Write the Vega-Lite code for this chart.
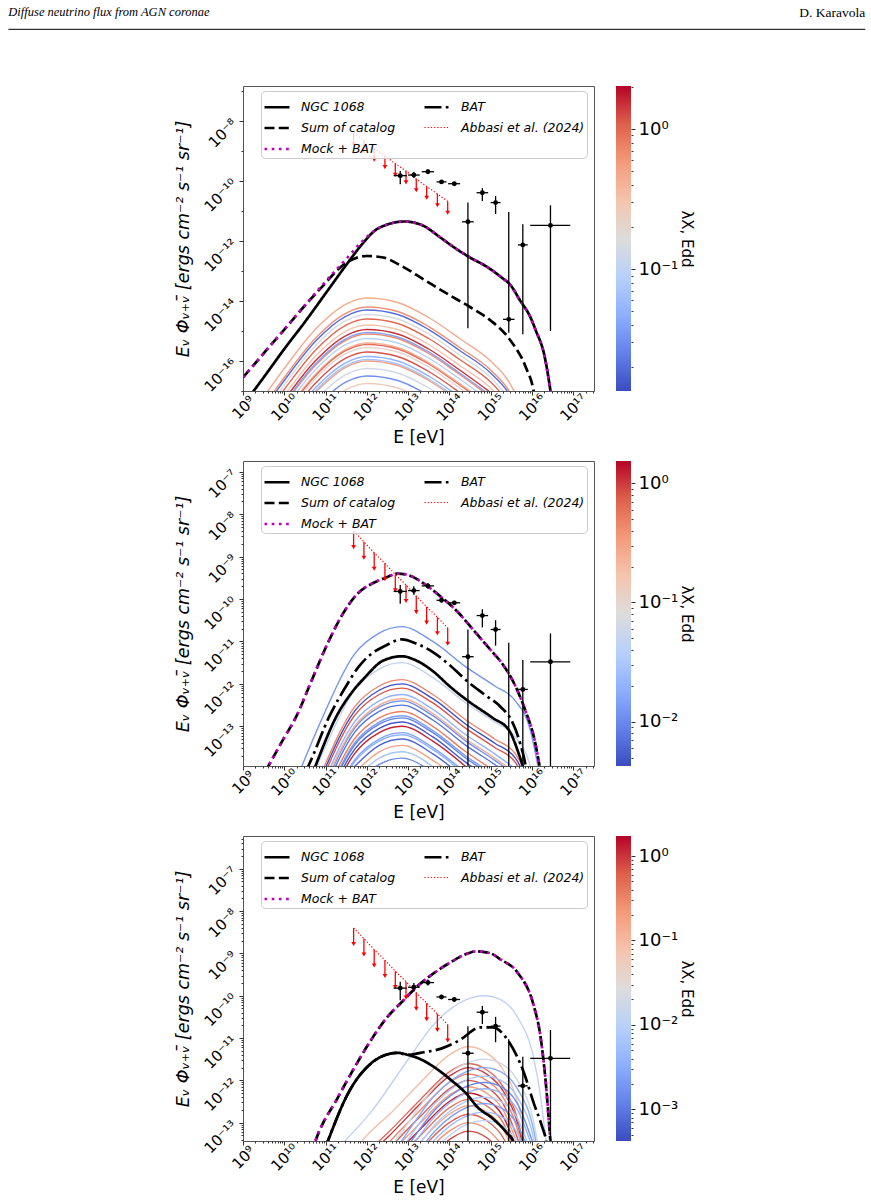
{
"$schema":"https://vega.github.io/schema/vega-lite/v6.json",
"padding":{"left":7,"top":5,"right":7,"bottom":2},
"bounds":"flush",
"columns":2,
"spacing":{"row":70,"column":22},
"resolve":{"scale":{"color":"independent","strokeDash":"independent","strokeWidth":"independent","stroke":"independent"},"legend":{"color":"independent","strokeDash":"independent","strokeWidth":"independent","stroke":"independent"}},
"config":{"font":"DejaVu Sans","view":{"stroke":"#555555","strokeWidth":1},
"axis":{"domain":false,"grid":false,"labelColor":"#000","titleColor":"#000","tickColor":"#333","tickWidth":1,"labelFontSize":15,"titleFontWeight":"normal","labelOverlap":false,"labelFlush":false},
"legend":{"title":null,"orient":"none","legendX":18,"legendY":5,"direction":"vertical","columns":2,"symbolType":"stroke","symbolSize":625,"labelFont":"DejaVu Sans","labelFontStyle":"italic","labelFontSize":12.5,"labelOffset":10,"labelLimit":300,"columnPadding":23,"rowPadding":-9,"padding":2,"fillColor":"rgba(255,255,255,0.8)","strokeColor":"#cccccc","cornerRadius":4,"zindex":1}},
"datasets":{
"pts":[
{"e":6.46e12,"f":1.51e-10,"el":4.47e12,"eh":9.33e12,"fl":7.76e-11,"fh":2.14e-10},
{"e":1.38e13,"f":1.58e-10,"el":1e13,"eh":1.91e13,"fl":1.26e-10,"fh":2e-10},
{"e":3.02e13,"f":2.04e-10,"el":2.14e13,"eh":4.27e13,"fl":1.74e-10,"fh":2.4e-10},
{"e":6.46e13,"f":9.33e-11,"el":4.9e13,"eh":8.51e13,"fl":8.32e-11,"fh":1.05e-10},
{"e":1.32e14,"f":8.13e-11,"el":9.33e13,"eh":1.82e14,"fl":7.24e-11,"fh":9.12e-11},
{"e":2.82e14,"f":4.37e-12,"el":2.04e14,"eh":3.89e14,"fl":1.23e-15,"fh":1.91e-11},
{"e":6.31e14,"f":4.07e-11,"el":4.57e14,"eh":8.71e14,"fl":2.14e-11,"fh":5.75e-11},
{"e":1.32e15,"f":1.91e-11,"el":1e15,"eh":1.74e15,"fl":7.94e-12,"fh":3.16e-11},
{"e":2.75e15,"f":2.45e-15,"el":2e15,"eh":3.8e15,"fl":8.71e-16,"fh":9.33e-12},
{"e":6.03e15,"f":7.41e-13,"el":4.57e15,"eh":7.94e15,"fl":7.76e-16,"fh":3.63e-12},
{"e":2.82e16,"f":3.31e-12,"el":9.12e15,"eh":8.51e16,"fl":1e-15,"fh":1.55e-11}],
"abb":[
{"e":4.79e11,"f":3.98e-9,"f2":1.67e-9},{"e":8.51e11,"f":2.24e-9,"f2":9.4e-10},{"e":1.51e12,"f":1.23e-9,"f2":5.17e-10},{"e":2.75e12,"f":6.92e-10,"f2":2.91e-10},{"e":4.9e12,"f":3.8e-10,"f2":1.6e-10},{"e":8.91e12,"f":2.14e-10,"f2":8.99e-11},{"e":1.58e13,"f":1.17e-10,"f2":4.91e-11},{"e":2.82e13,"f":6.61e-11,"f2":2.78e-11},{"e":5.13e13,"f":3.72e-11,"f2":1.56e-11},{"e":9.12e13,"f":2.09e-11,"f2":8.78e-12}],
"p1s":[
{"s":"Sum of catalog","e":1e9,"f":2.82e-17},{"s":"Sum of catalog","e":3.16e9,"f":1.78e-16},{"s":"Sum of catalog","e":1e10,"f":1.12e-15},{"s":"Sum of catalog","e":3.16e10,"f":7.08e-15},{"s":"Sum of catalog","e":1e11,"f":3.98e-14},{"s":"Sum of catalog","e":2e11,"f":1.12e-13},{"s":"Sum of catalog","e":3.98e11,"f":2.24e-13},{"s":"Sum of catalog","e":1e12,"f":3.16e-13},{"s":"Sum of catalog","e":2.51e12,"f":2.82e-13},{"s":"Sum of catalog","e":6.31e12,"f":1.58e-13},{"s":"Sum of catalog","e":2.51e13,"f":5.01e-14},{"s":"Sum of catalog","e":1e14,"f":1.58e-14},{"s":"Sum of catalog","e":3.16e14,"f":6.31e-15},{"s":"Sum of catalog","e":1e15,"f":2.24e-15},{"s":"Sum of catalog","e":3.16e15,"f":4.47e-16},{"s":"Sum of catalog","e":7.08e15,"f":6.31e-17},{"s":"Sum of catalog","e":1.12e16,"f":8.91e-18},{"s":"Sum of catalog","e":1.26e16,"f":3.16e-18},
{"s":"NGC 1068","e":1.41e9,"f":6.31e-18},{"s":"NGC 1068","e":3.16e9,"f":2.82e-17},{"s":"NGC 1068","e":1e10,"f":2.51e-16},{"s":"NGC 1068","e":3.16e10,"f":2e-15},{"s":"NGC 1068","e":1e11,"f":1.78e-14},{"s":"NGC 1068","e":3.16e11,"f":1.58e-13},{"s":"NGC 1068","e":8.91e11,"f":1e-12},{"s":"NGC 1068","e":1.58e12,"f":2.24e-12},{"s":"NGC 1068","e":3.16e12,"f":3.55e-12},{"s":"NGC 1068","e":7.94e12,"f":4.47e-12},{"s":"NGC 1068","e":2e13,"f":3.55e-12},{"s":"NGC 1068","e":6.31e13,"f":1.26e-12},{"s":"NGC 1068","e":1.26e14,"f":6.31e-13},{"s":"NGC 1068","e":3.16e14,"f":2.82e-13},{"s":"NGC 1068","e":7.94e14,"f":1.41e-13},{"s":"NGC 1068","e":1.78e15,"f":6.31e-14},{"s":"NGC 1068","e":3.16e15,"f":3.16e-14},{"s":"NGC 1068","e":5.01e15,"f":1.12e-14},{"s":"NGC 1068","e":8.91e15,"f":3.16e-15},{"s":"NGC 1068","e":1.26e16,"f":1e-15},{"s":"NGC 1068","e":2e16,"f":1.58e-16},{"s":"NGC 1068","e":2.82e16,"f":1e-17},{"s":"NGC 1068","e":3.16e16,"f":3.16e-18},
{"s":"Abbasi et al. (2024)","e":4.79e11,"f":3.98e-9},{"s":"Abbasi et al. (2024)","e":8.51e11,"f":2.24e-9},{"s":"Abbasi et al. (2024)","e":1.51e12,"f":1.23e-9},{"s":"Abbasi et al. (2024)","e":2.75e12,"f":6.92e-10},{"s":"Abbasi et al. (2024)","e":4.9e12,"f":3.8e-10},{"s":"Abbasi et al. (2024)","e":8.91e12,"f":2.14e-10},{"s":"Abbasi et al. (2024)","e":1.58e13,"f":1.17e-10},{"s":"Abbasi et al. (2024)","e":2.82e13,"f":6.61e-11},{"s":"Abbasi et al. (2024)","e":5.13e13,"f":3.72e-11},{"s":"Abbasi et al. (2024)","e":9.12e13,"f":2.09e-11},
{"s":"Mock + BAT","e":1e9,"f":2.82e-17},{"s":"Mock + BAT","e":3.16e9,"f":1.78e-16},{"s":"Mock + BAT","e":1e10,"f":1.12e-15},{"s":"Mock + BAT","e":3.16e10,"f":7.08e-15},{"s":"Mock + BAT","e":1e11,"f":4.47e-14},{"s":"Mock + BAT","e":3.16e11,"f":2.51e-13},{"s":"Mock + BAT","e":7.94e11,"f":1e-12},{"s":"Mock + BAT","e":1.58e12,"f":2.24e-12},{"s":"Mock + BAT","e":3.16e12,"f":3.55e-12},{"s":"Mock + BAT","e":7.94e12,"f":4.47e-12},{"s":"Mock + BAT","e":2e13,"f":3.55e-12},{"s":"Mock + BAT","e":6.31e13,"f":1.26e-12},{"s":"Mock + BAT","e":1.26e14,"f":6.31e-13},{"s":"Mock + BAT","e":3.16e14,"f":2.82e-13},{"s":"Mock + BAT","e":7.94e14,"f":1.41e-13},{"s":"Mock + BAT","e":1.78e15,"f":6.31e-14},{"s":"Mock + BAT","e":3.16e15,"f":3.16e-14},{"s":"Mock + BAT","e":5.01e15,"f":1.12e-14},{"s":"Mock + BAT","e":8.91e15,"f":3.16e-15},{"s":"Mock + BAT","e":1.26e16,"f":1e-15},{"s":"Mock + BAT","e":2e16,"f":1.58e-16},{"s":"Mock + BAT","e":2.82e16,"f":1e-17},{"s":"Mock + BAT","e":3.16e16,"f":3.16e-18}],
"p2s":[
{"s":"Sum of catalog","e":3.55e9,"f":8.91e-15},{"s":"Sum of catalog","e":8.91e9,"f":4.47e-14},{"s":"Sum of catalog","e":2e10,"f":1.78e-13},{"s":"Sum of catalog","e":4.47e10,"f":1.12e-12},{"s":"Sum of catalog","e":1.12e11,"f":8.91e-12},{"s":"Sum of catalog","e":2.82e11,"f":5.01e-11},{"s":"Sum of catalog","e":6.31e11,"f":1.41e-10},{"s":"Sum of catalog","e":1.26e12,"f":2.24e-10},{"s":"Sum of catalog","e":2.82e12,"f":3.16e-10},{"s":"Sum of catalog","e":5.62e12,"f":3.98e-10},{"s":"Sum of catalog","e":1.12e13,"f":3.55e-10},{"s":"Sum of catalog","e":2.51e13,"f":2.24e-10},{"s":"Sum of catalog","e":6.31e13,"f":1.12e-10},{"s":"Sum of catalog","e":1.58e14,"f":5.01e-11},{"s":"Sum of catalog","e":3.98e14,"f":1.78e-11},{"s":"Sum of catalog","e":1e15,"f":6.31e-12},{"s":"Sum of catalog","e":2e15,"f":2.82e-12},{"s":"Sum of catalog","e":3.98e15,"f":8.91e-13},{"s":"Sum of catalog","e":7.08e15,"f":2.24e-13},{"s":"Sum of catalog","e":1.12e16,"f":5.62e-14},{"s":"Sum of catalog","e":1.58e16,"f":1e-14},
{"s":"BAT","e":3.16e10,"f":7.94e-15},{"s":"BAT","e":3.98e10,"f":1.26e-14},{"s":"BAT","e":1.26e11,"f":1.78e-13},{"s":"BAT","e":3.16e11,"f":8.91e-13},{"s":"BAT","e":6.31e11,"f":2.51e-12},{"s":"BAT","e":1.26e12,"f":5.01e-12},{"s":"BAT","e":2.82e12,"f":7.94e-12},{"s":"BAT","e":7.08e12,"f":1.12e-11},{"s":"BAT","e":1.58e13,"f":8.91e-12},{"s":"BAT","e":3.98e13,"f":5.62e-12},{"s":"BAT","e":1e14,"f":2.82e-12},{"s":"BAT","e":2.82e14,"f":1.12e-12},{"s":"BAT","e":7.08e14,"f":5.62e-13},{"s":"BAT","e":1.78e15,"f":2.82e-13},{"s":"BAT","e":3.16e15,"f":1.41e-13},{"s":"BAT","e":5.01e15,"f":4.47e-14},{"s":"BAT","e":7.08e15,"f":1.12e-14},{"s":"BAT","e":7.94e15,"f":5.01e-15},
{"s":"NGC 1068","e":4.47e10,"f":6.31e-15},{"s":"NGC 1068","e":5.62e10,"f":1.12e-14},{"s":"NGC 1068","e":2e11,"f":2e-13},{"s":"NGC 1068","e":3.98e11,"f":5.62e-13},{"s":"NGC 1068","e":8.91e11,"f":1.41e-12},{"s":"NGC 1068","e":2.51e12,"f":3.55e-12},{"s":"NGC 1068","e":7.08e12,"f":4.47e-12},{"s":"NGC 1068","e":1.58e13,"f":3.55e-12},{"s":"NGC 1068","e":3.98e13,"f":2e-12},{"s":"NGC 1068","e":1e14,"f":8.91e-13},{"s":"NGC 1068","e":2.82e14,"f":3.98e-13},{"s":"NGC 1068","e":1.12e15,"f":1.58e-13},{"s":"NGC 1068","e":2.82e15,"f":7.94e-14},{"s":"NGC 1068","e":5.01e15,"f":2e-14},{"s":"NGC 1068","e":6.31e15,"f":1e-14},{"s":"NGC 1068","e":7.94e15,"f":3.98e-15},
{"s":"Abbasi et al. (2024)","e":4.79e11,"f":3.98e-9},{"s":"Abbasi et al. (2024)","e":8.51e11,"f":2.24e-9},{"s":"Abbasi et al. (2024)","e":1.51e12,"f":1.23e-9},{"s":"Abbasi et al. (2024)","e":2.75e12,"f":6.92e-10},{"s":"Abbasi et al. (2024)","e":4.9e12,"f":3.8e-10},{"s":"Abbasi et al. (2024)","e":8.91e12,"f":2.14e-10},{"s":"Abbasi et al. (2024)","e":1.58e13,"f":1.17e-10},{"s":"Abbasi et al. (2024)","e":2.82e13,"f":6.61e-11},{"s":"Abbasi et al. (2024)","e":5.13e13,"f":3.72e-11},{"s":"Abbasi et al. (2024)","e":9.12e13,"f":2.09e-11},
{"s":"Mock + BAT","e":3.55e9,"f":8.91e-15},{"s":"Mock + BAT","e":8.91e9,"f":4.47e-14},{"s":"Mock + BAT","e":2e10,"f":1.78e-13},{"s":"Mock + BAT","e":4.47e10,"f":1.12e-12},{"s":"Mock + BAT","e":1.12e11,"f":8.91e-12},{"s":"Mock + BAT","e":2.82e11,"f":5.01e-11},{"s":"Mock + BAT","e":6.31e11,"f":1.41e-10},{"s":"Mock + BAT","e":1.26e12,"f":2.24e-10},{"s":"Mock + BAT","e":2.82e12,"f":3.16e-10},{"s":"Mock + BAT","e":5.62e12,"f":3.98e-10},{"s":"Mock + BAT","e":1.12e13,"f":3.55e-10},{"s":"Mock + BAT","e":2.51e13,"f":2.24e-10},{"s":"Mock + BAT","e":6.31e13,"f":1.12e-10},{"s":"Mock + BAT","e":1.58e14,"f":5.01e-11},{"s":"Mock + BAT","e":3.98e14,"f":1.78e-11},{"s":"Mock + BAT","e":1e15,"f":6.31e-12},{"s":"Mock + BAT","e":2e15,"f":2.82e-12},{"s":"Mock + BAT","e":3.98e15,"f":8.91e-13},{"s":"Mock + BAT","e":7.08e15,"f":2.24e-13},{"s":"Mock + BAT","e":1.12e16,"f":5.62e-14},{"s":"Mock + BAT","e":1.58e16,"f":1e-14}],
"p3s":[
{"s":"BAT","e":8.91e10,"f":2e-14},{"s":"BAT","e":1.12e11,"f":3.55e-14},{"s":"BAT","e":3.55e11,"f":5.01e-13},{"s":"BAT","e":1.26e12,"f":2.51e-12},{"s":"BAT","e":2.82e12,"f":3.98e-12},{"s":"BAT","e":5.62e12,"f":4.47e-12},{"s":"BAT","e":1e13,"f":3.98e-12},{"s":"BAT","e":2e13,"f":4.47e-12},{"s":"BAT","e":6.31e13,"f":5.62e-12},{"s":"BAT","e":1.78e14,"f":8.91e-12},{"s":"BAT","e":5.62e14,"f":1.78e-11},{"s":"BAT","e":1.12e15,"f":1.78e-11},{"s":"BAT","e":2.82e15,"f":7.94e-12},{"s":"BAT","e":6.31e15,"f":1.58e-12},{"s":"BAT","e":1.12e16,"f":2.82e-13},{"s":"BAT","e":1.78e16,"f":7.94e-14},{"s":"BAT","e":2.24e16,"f":3.55e-14},{"s":"BAT","e":2.51e16,"f":1.58e-14},
{"s":"NGC 1068","e":8.91e10,"f":2e-14},{"s":"NGC 1068","e":1.12e11,"f":3.55e-14},{"s":"NGC 1068","e":3.55e11,"f":5.01e-13},{"s":"NGC 1068","e":1.26e12,"f":2.51e-12},{"s":"NGC 1068","e":2.82e12,"f":3.98e-12},{"s":"NGC 1068","e":5.62e12,"f":4.47e-12},{"s":"NGC 1068","e":1e13,"f":3.98e-12},{"s":"NGC 1068","e":2e13,"f":3.16e-12},{"s":"NGC 1068","e":4.47e13,"f":2e-12},{"s":"NGC 1068","e":1.12e14,"f":1e-12},{"s":"NGC 1068","e":2.51e14,"f":5.01e-13},{"s":"NGC 1068","e":5.01e14,"f":2.24e-13},{"s":"NGC 1068","e":1.12e15,"f":1.26e-13},{"s":"NGC 1068","e":2.51e15,"f":5.62e-14},{"s":"NGC 1068","e":3.55e15,"f":3.55e-14},{"s":"NGC 1068","e":4.47e15,"f":1.58e-14},
{"s":"Sum of catalog","e":4.47e10,"f":1.78e-14},{"s":"Sum of catalog","e":5.62e10,"f":3.55e-14},{"s":"Sum of catalog","e":2e11,"f":3.98e-13},{"s":"Sum of catalog","e":5.01e11,"f":2e-12},{"s":"Sum of catalog","e":1.26e12,"f":8.91e-12},{"s":"Sum of catalog","e":3.16e12,"f":3.16e-11},{"s":"Sum of catalog","e":7.08e12,"f":7.08e-11},{"s":"Sum of catalog","e":1.58e13,"f":1.58e-10},{"s":"Sum of catalog","e":4.47e13,"f":3.55e-10},{"s":"Sum of catalog","e":1.12e14,"f":6.31e-10},{"s":"Sum of catalog","e":2.82e14,"f":1e-9},{"s":"Sum of catalog","e":4.47e14,"f":1.12e-9},{"s":"Sum of catalog","e":1e15,"f":1e-9},{"s":"Sum of catalog","e":1.78e15,"f":7.08e-10},{"s":"Sum of catalog","e":4.47e15,"f":3.55e-10},{"s":"Sum of catalog","e":1.12e16,"f":5.62e-11},{"s":"Sum of catalog","e":1.58e16,"f":1.26e-11},{"s":"Sum of catalog","e":2.24e16,"f":6.31e-13},{"s":"Sum of catalog","e":2.82e16,"f":3.55e-14},{"s":"Sum of catalog","e":3.16e16,"f":1e-14},
{"s":"Abbasi et al. (2024)","e":4.79e11,"f":3.98e-9},{"s":"Abbasi et al. (2024)","e":8.51e11,"f":2.24e-9},{"s":"Abbasi et al. (2024)","e":1.51e12,"f":1.23e-9},{"s":"Abbasi et al. (2024)","e":2.75e12,"f":6.92e-10},{"s":"Abbasi et al. (2024)","e":4.9e12,"f":3.8e-10},{"s":"Abbasi et al. (2024)","e":8.91e12,"f":2.14e-10},{"s":"Abbasi et al. (2024)","e":1.58e13,"f":1.17e-10},{"s":"Abbasi et al. (2024)","e":2.82e13,"f":6.61e-11},{"s":"Abbasi et al. (2024)","e":5.13e13,"f":3.72e-11},{"s":"Abbasi et al. (2024)","e":9.12e13,"f":2.09e-11},
{"s":"Mock + BAT","e":4.47e10,"f":1.78e-14},{"s":"Mock + BAT","e":5.62e10,"f":3.55e-14},{"s":"Mock + BAT","e":2e11,"f":3.98e-13},{"s":"Mock + BAT","e":5.01e11,"f":2e-12},{"s":"Mock + BAT","e":1.26e12,"f":8.91e-12},{"s":"Mock + BAT","e":3.16e12,"f":3.16e-11},{"s":"Mock + BAT","e":7.08e12,"f":7.08e-11},{"s":"Mock + BAT","e":1.58e13,"f":1.58e-10},{"s":"Mock + BAT","e":4.47e13,"f":3.55e-10},{"s":"Mock + BAT","e":1.12e14,"f":6.31e-10},{"s":"Mock + BAT","e":2.82e14,"f":1e-9},{"s":"Mock + BAT","e":4.47e14,"f":1.12e-9},{"s":"Mock + BAT","e":1e15,"f":1e-9},{"s":"Mock + BAT","e":1.78e15,"f":7.08e-10},{"s":"Mock + BAT","e":4.47e15,"f":3.55e-10},{"s":"Mock + BAT","e":1.12e16,"f":5.62e-11},{"s":"Mock + BAT","e":1.58e16,"f":1.26e-11},{"s":"Mock + BAT","e":2.24e16,"f":6.31e-13},{"s":"Mock + BAT","e":2.82e16,"f":3.55e-14},{"s":"Mock + BAT","e":3.16e16,"f":1e-14}],
"p1c":[
{"c":"a1","v":0.45,"e":3.16e9,"f":6.31e-18},{"c":"a1","v":0.45,"e":1e10,"f":5.62e-17},{"c":"a1","v":0.45,"e":5.62e10,"f":1.12e-15},{"c":"a1","v":0.45,"e":3.16e11,"f":7.94e-15},{"c":"a1","v":0.45,"e":1e12,"f":1.26e-14},{"c":"a1","v":0.45,"e":5.62e12,"f":8.91e-15},{"c":"a1","v":0.45,"e":3.16e13,"f":2.82e-15},{"c":"a1","v":0.45,"e":1.78e14,"f":5.62e-16},{"c":"a1","v":0.45,"e":1e15,"f":1e-16},{"c":"a1","v":0.45,"e":2.51e15,"f":2.51e-17},{"c":"a1","v":0.45,"e":5.62e15,"f":3.16e-18},
{"c":"a2","v":0.02,"e":3.16e9,"f":2.51e-18},{"c":"a2","v":0.02,"e":1e10,"f":2.24e-17},{"c":"a2","v":0.02,"e":5.62e10,"f":4.47e-16},{"c":"a2","v":0.02,"e":3.16e11,"f":3.16e-15},{"c":"a2","v":0.02,"e":1e12,"f":5.01e-15},{"c":"a2","v":0.02,"e":5.62e12,"f":3.55e-15},{"c":"a2","v":0.02,"e":3.16e13,"f":1.12e-15},{"c":"a2","v":0.02,"e":1.78e14,"f":2.24e-16},{"c":"a2","v":0.02,"e":1e15,"f":3.98e-17},{"c":"a2","v":0.02,"e":2.51e15,"f":1e-17},{"c":"a2","v":0.02,"e":5.62e15,"f":1.26e-18},
{"c":"a3","v":0.65,"e":3.16e9,"f":3.16e-18},{"c":"a3","v":0.65,"e":1e10,"f":2.82e-17},{"c":"a3","v":0.65,"e":5.62e10,"f":5.62e-16},{"c":"a3","v":0.65,"e":3.16e11,"f":3.98e-15},{"c":"a3","v":0.65,"e":1e12,"f":6.31e-15},{"c":"a3","v":0.65,"e":5.62e12,"f":4.47e-15},{"c":"a3","v":0.65,"e":3.16e13,"f":1.41e-15},{"c":"a3","v":0.65,"e":1.78e14,"f":2.82e-16},{"c":"a3","v":0.65,"e":1e15,"f":5.01e-17},{"c":"a3","v":0.65,"e":2.51e15,"f":1.26e-17},{"c":"a3","v":0.65,"e":5.62e15,"f":1.58e-18},
{"c":"a4","v":1.0,"e":3.16e9,"f":1.26e-18},{"c":"a4","v":1.0,"e":1e10,"f":1.12e-17},{"c":"a4","v":1.0,"e":5.62e10,"f":2.24e-16},{"c":"a4","v":1.0,"e":3.16e11,"f":1.58e-15},{"c":"a4","v":1.0,"e":1e12,"f":2.51e-15},{"c":"a4","v":1.0,"e":5.62e12,"f":1.78e-15},{"c":"a4","v":1.0,"e":3.16e13,"f":5.62e-16},{"c":"a4","v":1.0,"e":1.78e14,"f":1.12e-16},{"c":"a4","v":1.0,"e":1e15,"f":2e-17},{"c":"a4","v":1.0,"e":2.51e15,"f":5.01e-18},
{"c":"a5","v":0.3,"e":1e10,"f":7.08e-18},{"c":"a5","v":0.3,"e":5.62e10,"f":1.41e-16},{"c":"a5","v":0.3,"e":3.16e11,"f":1e-15},{"c":"a5","v":0.3,"e":1e12,"f":1.58e-15},{"c":"a5","v":0.3,"e":5.62e12,"f":1.12e-15},{"c":"a5","v":0.3,"e":3.16e13,"f":3.55e-16},{"c":"a5","v":0.3,"e":1.78e14,"f":7.08e-17},{"c":"a5","v":0.3,"e":1e15,"f":1.26e-17},{"c":"a5","v":0.3,"e":2.51e15,"f":3.16e-18},
{"c":"a6","v":1.5,"e":1e10,"f":5.01e-18},{"c":"a6","v":1.5,"e":5.62e10,"f":1e-16},{"c":"a6","v":1.5,"e":3.16e11,"f":7.08e-16},{"c":"a6","v":1.5,"e":1e12,"f":1.12e-15},{"c":"a6","v":1.5,"e":5.62e12,"f":7.94e-16},{"c":"a6","v":1.5,"e":3.16e13,"f":2.51e-16},{"c":"a6","v":1.5,"e":1.78e14,"f":5.01e-17},{"c":"a6","v":1.5,"e":1e15,"f":8.91e-18},
{"c":"a7","v":0.7,"e":1e10,"f":3.55e-18},{"c":"a7","v":0.7,"e":5.62e10,"f":7.08e-17},{"c":"a7","v":0.7,"e":3.16e11,"f":5.01e-16},{"c":"a7","v":0.7,"e":1e12,"f":7.94e-16},{"c":"a7","v":0.7,"e":5.62e12,"f":5.62e-16},{"c":"a7","v":0.7,"e":3.16e13,"f":1.78e-16},{"c":"a7","v":0.7,"e":1.78e14,"f":3.55e-17},{"c":"a7","v":0.7,"e":1e15,"f":6.31e-18},
{"c":"a8","v":0.09,"e":1e10,"f":2.51e-18},{"c":"a8","v":0.09,"e":5.62e10,"f":5.01e-17},{"c":"a8","v":0.09,"e":3.16e11,"f":3.55e-16},{"c":"a8","v":0.09,"e":1e12,"f":5.62e-16},{"c":"a8","v":0.09,"e":5.62e12,"f":3.98e-16},{"c":"a8","v":0.09,"e":3.16e13,"f":1.26e-16},{"c":"a8","v":0.09,"e":1.78e14,"f":2.51e-17},{"c":"a8","v":0.09,"e":1e15,"f":4.47e-18},
{"c":"a9","v":0.4,"e":1e10,"f":1.78e-18},{"c":"a9","v":0.4,"e":5.62e10,"f":3.55e-17},{"c":"a9","v":0.4,"e":3.16e11,"f":2.51e-16},{"c":"a9","v":0.4,"e":1e12,"f":3.98e-16},{"c":"a9","v":0.4,"e":5.62e12,"f":2.82e-16},{"c":"a9","v":0.4,"e":3.16e13,"f":8.91e-17},{"c":"a9","v":0.4,"e":1.78e14,"f":1.78e-17},{"c":"a9","v":0.4,"e":1e15,"f":3.16e-18},
{"c":"a10","v":0.2,"e":1e10,"f":1.26e-18},{"c":"a10","v":0.2,"e":5.62e10,"f":2.51e-17},{"c":"a10","v":0.2,"e":3.16e11,"f":1.78e-16},{"c":"a10","v":0.2,"e":1e12,"f":2.82e-16},{"c":"a10","v":0.2,"e":5.62e12,"f":2e-16},{"c":"a10","v":0.2,"e":3.16e13,"f":6.31e-17},{"c":"a10","v":0.2,"e":1.78e14,"f":1.26e-17},{"c":"a10","v":0.2,"e":1e15,"f":2.24e-18},
{"c":"a11","v":1.2,"e":1e10,"f":8.91e-19},{"c":"a11","v":1.2,"e":5.62e10,"f":1.78e-17},{"c":"a11","v":1.2,"e":3.16e11,"f":1.26e-16},{"c":"a11","v":1.2,"e":1e12,"f":2e-16},{"c":"a11","v":1.2,"e":5.62e12,"f":1.41e-16},{"c":"a11","v":1.2,"e":3.16e13,"f":4.47e-17},{"c":"a11","v":1.2,"e":1.78e14,"f":8.91e-18},
{"c":"a12","v":0.05,"e":1e10,"f":6.31e-19},{"c":"a12","v":0.05,"e":5.62e10,"f":1.26e-17},{"c":"a12","v":0.05,"e":3.16e11,"f":8.91e-17},{"c":"a12","v":0.05,"e":1e12,"f":1.41e-16},{"c":"a12","v":0.05,"e":5.62e12,"f":1e-16},{"c":"a12","v":0.05,"e":3.16e13,"f":3.16e-17},{"c":"a12","v":0.05,"e":1.78e14,"f":6.31e-18},
{"c":"a13","v":0.55,"e":5.62e10,"f":8.91e-18},{"c":"a13","v":0.55,"e":3.16e11,"f":6.31e-17},{"c":"a13","v":0.55,"e":1e12,"f":1e-16},{"c":"a13","v":0.55,"e":5.62e12,"f":7.08e-17},{"c":"a13","v":0.55,"e":3.16e13,"f":2.24e-17},{"c":"a13","v":0.55,"e":1.78e14,"f":4.47e-18},
{"c":"a14","v":0.13,"e":5.62e10,"f":5.01e-18},{"c":"a14","v":0.13,"e":3.16e11,"f":3.55e-17},{"c":"a14","v":0.13,"e":1e12,"f":5.62e-17},{"c":"a14","v":0.13,"e":5.62e12,"f":3.98e-17},{"c":"a14","v":0.13,"e":3.16e13,"f":1.26e-17},{"c":"a14","v":0.13,"e":1.78e14,"f":2.51e-18},
{"c":"a15","v":0.03,"e":5.62e10,"f":2.82e-18},{"c":"a15","v":0.03,"e":3.16e11,"f":2e-17},{"c":"a15","v":0.03,"e":1e12,"f":3.16e-17},{"c":"a15","v":0.03,"e":5.62e12,"f":2.24e-17},{"c":"a15","v":0.03,"e":3.16e13,"f":7.08e-18},
{"c":"a16","v":0.25,"e":5.62e10,"f":1.58e-18},{"c":"a16","v":0.25,"e":3.16e11,"f":1.12e-17},{"c":"a16","v":0.25,"e":1e12,"f":1.78e-17},{"c":"a16","v":0.25,"e":5.62e12,"f":1.26e-17},{"c":"a16","v":0.25,"e":3.16e13,"f":3.98e-18},
{"c":"a17","v":0.15,"e":3.16e9,"f":1.78e-18},{"c":"a17","v":0.15,"e":1e10,"f":1.58e-17},{"c":"a17","v":0.15,"e":5.62e10,"f":3.16e-16},{"c":"a17","v":0.15,"e":3.16e11,"f":2.24e-15},{"c":"a17","v":0.15,"e":1e12,"f":3.55e-15},{"c":"a17","v":0.15,"e":5.62e12,"f":2.51e-15},{"c":"a17","v":0.15,"e":3.16e13,"f":7.94e-16},{"c":"a17","v":0.15,"e":1.78e14,"f":1.58e-16},{"c":"a17","v":0.15,"e":1e15,"f":2.82e-17},{"c":"a17","v":0.15,"e":2.51e15,"f":7.08e-18},
{"c":"a18","v":0.04,"e":1e10,"f":3.98e-18},{"c":"a18","v":0.04,"e":5.62e10,"f":7.94e-17},{"c":"a18","v":0.04,"e":3.16e11,"f":5.62e-16},{"c":"a18","v":0.04,"e":1e12,"f":8.91e-16},{"c":"a18","v":0.04,"e":5.62e12,"f":6.31e-16},{"c":"a18","v":0.04,"e":3.16e13,"f":2e-16},{"c":"a18","v":0.04,"e":1.78e14,"f":3.98e-17},{"c":"a18","v":0.04,"e":1e15,"f":7.08e-18},
{"c":"a19","v":0.9,"e":1e10,"f":1.58e-18},{"c":"a19","v":0.9,"e":5.62e10,"f":3.16e-17},{"c":"a19","v":0.9,"e":3.16e11,"f":2.24e-16},{"c":"a19","v":0.9,"e":1e12,"f":3.55e-16},{"c":"a19","v":0.9,"e":5.62e12,"f":2.51e-16},{"c":"a19","v":0.9,"e":3.16e13,"f":7.94e-17},{"c":"a19","v":0.9,"e":1.78e14,"f":1.58e-17},{"c":"a19","v":0.9,"e":1e15,"f":2.82e-18},
{"c":"a20","v":0.07,"e":1e10,"f":5.01e-19},{"c":"a20","v":0.07,"e":5.62e10,"f":1e-17},{"c":"a20","v":0.07,"e":3.16e11,"f":7.08e-17},{"c":"a20","v":0.07,"e":1e12,"f":1.12e-16},{"c":"a20","v":0.07,"e":5.62e12,"f":7.94e-17},{"c":"a20","v":0.07,"e":3.16e13,"f":2.51e-17},{"c":"a20","v":0.07,"e":1.78e14,"f":5.01e-18}],
"p2c":[
{"c":"b1","v":0.012,"e":2.51e10,"f":1e-14},{"c":"b1","v":0.012,"e":7.94e10,"f":1.41e-13},{"c":"b1","v":0.012,"e":5.01e11,"f":5.01e-12},{"c":"b1","v":0.012,"e":2e12,"f":1.58e-11},{"c":"b1","v":0.012,"e":7.08e12,"f":2.24e-11},{"c":"b1","v":0.012,"e":3.98e13,"f":1e-11},{"c":"b1","v":0.012,"e":2.51e14,"f":2.51e-12},{"c":"b1","v":0.012,"e":1.26e15,"f":8.91e-13},{"c":"b1","v":0.012,"e":3.98e15,"f":3.98e-13},{"c":"b1","v":0.012,"e":8.91e15,"f":8.91e-14},{"c":"b1","v":0.012,"e":1.41e16,"f":1.12e-14},
{"c":"b2","v":0.05,"e":2.51e10,"f":1.41e-15},{"c":"b2","v":0.05,"e":7.94e10,"f":2e-14},{"c":"b2","v":0.05,"e":5.01e11,"f":7.08e-13},{"c":"b2","v":0.05,"e":2e12,"f":2.24e-12},{"c":"b2","v":0.05,"e":7.08e12,"f":3.16e-12},{"c":"b2","v":0.05,"e":3.98e13,"f":1.41e-12},{"c":"b2","v":0.05,"e":2.51e14,"f":3.55e-13},{"c":"b2","v":0.05,"e":1.26e15,"f":1.26e-13},{"c":"b2","v":0.05,"e":3.98e15,"f":5.62e-14},{"c":"b2","v":0.05,"e":8.91e15,"f":1.26e-14},{"c":"b2","v":0.05,"e":1.41e16,"f":1.58e-15},
{"c":"b3","v":0.45,"e":7.94e10,"f":7.94e-15},{"c":"b3","v":0.45,"e":5.01e11,"f":2.82e-13},{"c":"b3","v":0.45,"e":2e12,"f":8.91e-13},{"c":"b3","v":0.45,"e":7.08e12,"f":1.26e-12},{"c":"b3","v":0.45,"e":3.98e13,"f":5.62e-13},{"c":"b3","v":0.45,"e":2.51e14,"f":1.41e-13},{"c":"b3","v":0.45,"e":1.26e15,"f":5.01e-14},{"c":"b3","v":0.45,"e":3.98e15,"f":2.24e-14},{"c":"b3","v":0.45,"e":8.91e15,"f":5.01e-15},
{"c":"b4","v":0.8,"e":7.94e10,"f":5.01e-15},{"c":"b4","v":0.8,"e":5.01e11,"f":1.78e-13},{"c":"b4","v":0.8,"e":2e12,"f":5.62e-13},{"c":"b4","v":0.8,"e":7.08e12,"f":7.94e-13},{"c":"b4","v":0.8,"e":3.98e13,"f":3.55e-13},{"c":"b4","v":0.8,"e":2.51e14,"f":8.91e-14},{"c":"b4","v":0.8,"e":1.26e15,"f":3.16e-14},{"c":"b4","v":0.8,"e":3.98e15,"f":1.41e-14},{"c":"b4","v":0.8,"e":8.91e15,"f":3.16e-15},
{"c":"b5","v":0.02,"e":7.94e10,"f":3.55e-15},{"c":"b5","v":0.02,"e":5.01e11,"f":1.26e-13},{"c":"b5","v":0.02,"e":2e12,"f":3.98e-13},{"c":"b5","v":0.02,"e":7.08e12,"f":5.62e-13},{"c":"b5","v":0.02,"e":3.98e13,"f":2.51e-13},{"c":"b5","v":0.02,"e":2.51e14,"f":6.31e-14},{"c":"b5","v":0.02,"e":1.26e15,"f":2.24e-14},{"c":"b5","v":0.02,"e":3.98e15,"f":1e-14},
{"c":"b6","v":0.011,"e":7.94e10,"f":2.51e-15},{"c":"b6","v":0.011,"e":5.01e11,"f":8.91e-14},{"c":"b6","v":0.011,"e":2e12,"f":2.82e-13},{"c":"b6","v":0.011,"e":7.08e12,"f":3.98e-13},{"c":"b6","v":0.011,"e":3.98e13,"f":1.78e-13},{"c":"b6","v":0.011,"e":2.51e14,"f":4.47e-14},{"c":"b6","v":0.011,"e":1.26e15,"f":1.58e-14},{"c":"b6","v":0.011,"e":3.98e15,"f":7.08e-15},
{"c":"b7","v":0.007,"e":7.94e10,"f":2e-15},{"c":"b7","v":0.007,"e":5.01e11,"f":7.08e-14},{"c":"b7","v":0.007,"e":2e12,"f":2.24e-13},{"c":"b7","v":0.007,"e":7.08e12,"f":3.16e-13},{"c":"b7","v":0.007,"e":3.98e13,"f":1.41e-13},{"c":"b7","v":0.007,"e":2.51e14,"f":3.55e-14},{"c":"b7","v":0.007,"e":1.26e15,"f":1.26e-14},{"c":"b7","v":0.007,"e":3.98e15,"f":5.62e-15},
{"c":"b8","v":0.5,"e":7.94e10,"f":1.41e-15},{"c":"b8","v":0.5,"e":5.01e11,"f":5.01e-14},{"c":"b8","v":0.5,"e":2e12,"f":1.58e-13},{"c":"b8","v":0.5,"e":7.08e12,"f":2.24e-13},{"c":"b8","v":0.5,"e":3.98e13,"f":1e-13},{"c":"b8","v":0.5,"e":2.51e14,"f":2.51e-14},{"c":"b8","v":0.5,"e":1.26e15,"f":8.91e-15},
{"c":"b9","v":0.014,"e":7.94e10,"f":1.12e-15},{"c":"b9","v":0.014,"e":5.01e11,"f":3.98e-14},{"c":"b9","v":0.014,"e":2e12,"f":1.26e-13},{"c":"b9","v":0.014,"e":7.08e12,"f":1.78e-13},{"c":"b9","v":0.014,"e":3.98e13,"f":7.94e-14},{"c":"b9","v":0.014,"e":2.51e14,"f":2e-14},{"c":"b9","v":0.014,"e":1.26e15,"f":7.08e-15},
{"c":"b10","v":0.005,"e":7.94e10,"f":7.94e-16},{"c":"b10","v":0.005,"e":5.01e11,"f":2.82e-14},{"c":"b10","v":0.005,"e":2e12,"f":8.91e-14},{"c":"b10","v":0.005,"e":7.08e12,"f":1.26e-13},{"c":"b10","v":0.005,"e":3.98e13,"f":5.62e-14},{"c":"b10","v":0.005,"e":2.51e14,"f":1.41e-14},{"c":"b10","v":0.005,"e":1.26e15,"f":5.01e-15},
{"c":"b11","v":1.2,"e":7.94e10,"f":6.31e-16},{"c":"b11","v":1.2,"e":5.01e11,"f":2.24e-14},{"c":"b11","v":1.2,"e":2e12,"f":7.08e-14},{"c":"b11","v":1.2,"e":7.08e12,"f":1e-13},{"c":"b11","v":1.2,"e":3.98e13,"f":4.47e-14},{"c":"b11","v":1.2,"e":2.51e14,"f":1.12e-14},
{"c":"b12","v":0.015,"e":7.94e10,"f":4.47e-16},{"c":"b12","v":0.015,"e":5.01e11,"f":1.58e-14},{"c":"b12","v":0.015,"e":2e12,"f":5.01e-14},{"c":"b12","v":0.015,"e":7.08e12,"f":7.08e-14},{"c":"b12","v":0.015,"e":3.98e13,"f":3.16e-14},{"c":"b12","v":0.015,"e":2.51e14,"f":7.94e-15},
{"c":"b13","v":0.006,"e":5.01e11,"f":1.12e-14},{"c":"b13","v":0.006,"e":2e12,"f":3.55e-14},{"c":"b13","v":0.006,"e":7.08e12,"f":5.01e-14},{"c":"b13","v":0.006,"e":3.98e13,"f":2.24e-14},{"c":"b13","v":0.006,"e":2.51e14,"f":5.62e-15},
{"c":"b14","v":0.3,"e":5.01e11,"f":7.94e-15},{"c":"b14","v":0.3,"e":2e12,"f":2.51e-14},{"c":"b14","v":0.3,"e":7.08e12,"f":3.55e-14},{"c":"b14","v":0.3,"e":3.98e13,"f":1.58e-14},{"c":"b14","v":0.3,"e":2.51e14,"f":3.98e-15},
{"c":"b15","v":0.03,"e":5.01e11,"f":5.62e-15},{"c":"b15","v":0.03,"e":2e12,"f":1.78e-14},{"c":"b15","v":0.03,"e":7.08e12,"f":2.51e-14},{"c":"b15","v":0.03,"e":3.98e13,"f":1.12e-14},
{"c":"b16","v":0.01,"e":5.01e11,"f":3.98e-15},{"c":"b16","v":0.01,"e":2e12,"f":1.26e-14},{"c":"b16","v":0.01,"e":7.08e12,"f":1.78e-14},{"c":"b16","v":0.01,"e":3.98e13,"f":7.94e-15},
{"c":"b17","v":0.0045,"e":7.94e10,"f":6.31e-15},{"c":"b17","v":0.0045,"e":5.01e11,"f":2.24e-13},{"c":"b17","v":0.0045,"e":2e12,"f":7.08e-13},{"c":"b17","v":0.0045,"e":7.08e12,"f":1e-12},{"c":"b17","v":0.0045,"e":3.98e13,"f":4.47e-13},{"c":"b17","v":0.0045,"e":2.51e14,"f":1.12e-13},{"c":"b17","v":0.0045,"e":1.26e15,"f":3.98e-14},{"c":"b17","v":0.0045,"e":3.98e15,"f":1.78e-14},{"c":"b17","v":0.0045,"e":8.91e15,"f":3.98e-15},
{"c":"b18","v":0.25,"e":7.94e10,"f":2.82e-15},{"c":"b18","v":0.25,"e":5.01e11,"f":1e-13},{"c":"b18","v":0.25,"e":2e12,"f":3.16e-13},{"c":"b18","v":0.25,"e":7.08e12,"f":4.47e-13},{"c":"b18","v":0.25,"e":3.98e13,"f":2e-13},{"c":"b18","v":0.25,"e":2.51e14,"f":5.01e-14},{"c":"b18","v":0.25,"e":1.26e15,"f":1.78e-14},{"c":"b18","v":0.25,"e":3.98e15,"f":7.94e-15},
{"c":"b19","v":0.009,"e":7.94e10,"f":1e-15},{"c":"b19","v":0.009,"e":5.01e11,"f":3.55e-14},{"c":"b19","v":0.009,"e":2e12,"f":1.12e-13},{"c":"b19","v":0.009,"e":7.08e12,"f":1.58e-13},{"c":"b19","v":0.009,"e":3.98e13,"f":7.08e-14},{"c":"b19","v":0.009,"e":2.51e14,"f":1.78e-14},{"c":"b19","v":0.009,"e":1.26e15,"f":6.31e-15},
{"c":"b20","v":0.02,"e":7.94e10,"f":3.98e-16},{"c":"b20","v":0.02,"e":5.01e11,"f":1.41e-14},{"c":"b20","v":0.02,"e":2e12,"f":4.47e-14},{"c":"b20","v":0.02,"e":7.08e12,"f":6.31e-14},{"c":"b20","v":0.02,"e":3.98e13,"f":2.82e-14},{"c":"b20","v":0.02,"e":2.51e14,"f":7.08e-15}],
"p3c":[
{"c":"B1","v":0.012,"e":2.82e11,"f":3.55e-14},{"c":"B1","v":0.012,"e":1.26e12,"f":1.78e-13},{"c":"B1","v":0.012,"e":7.94e12,"f":2.24e-12},{"c":"B1","v":0.012,"e":4.47e13,"f":2.24e-11},{"c":"B1","v":0.012,"e":2.51e14,"f":7.94e-11},{"c":"B1","v":0.012,"e":7.08e14,"f":1e-10},{"c":"B1","v":0.012,"e":1.78e15,"f":7.94e-11},{"c":"B1","v":0.012,"e":4.47e15,"f":3.16e-11},{"c":"B1","v":0.012,"e":1.12e16,"f":3.16e-12},{"c":"B1","v":0.012,"e":1.58e16,"f":5.01e-13},{"c":"B1","v":0.012,"e":2.24e16,"f":3.16e-14},
{"c":"R1","v":0.09,"e":3.98e11,"f":1.58e-14},{"c":"R1","v":0.09,"e":1e12,"f":5.01e-14},{"c":"R1","v":0.09,"e":3.55e12,"f":1.58e-13},{"c":"R1","v":0.09,"e":2e13,"f":8.91e-13},{"c":"R1","v":0.09,"e":1e14,"f":3.98e-12},{"c":"R1","v":0.09,"e":2.82e14,"f":6.31e-12},{"c":"R1","v":0.09,"e":7.94e14,"f":4.47e-12},{"c":"R1","v":0.09,"e":2e15,"f":1.78e-12},{"c":"R1","v":0.09,"e":5.01e15,"f":2e-13},{"c":"R1","v":0.09,"e":7.94e15,"f":2e-14},
{"c":"R2","v":0.5,"e":1e12,"f":2e-14},{"c":"R2","v":0.5,"e":3.55e12,"f":6.31e-14},{"c":"R2","v":0.5,"e":2e13,"f":3.55e-13},{"c":"R2","v":0.5,"e":1e14,"f":1.58e-12},{"c":"R2","v":0.5,"e":2.82e14,"f":2.51e-12},{"c":"R2","v":0.5,"e":7.94e14,"f":1.78e-12},{"c":"R2","v":0.5,"e":2e15,"f":7.08e-13},{"c":"R2","v":0.5,"e":5.01e15,"f":7.94e-14},{"c":"R2","v":0.5,"e":7.94e15,"f":7.94e-15},
{"c":"R3","v":1.0,"e":1e12,"f":1.58e-14},{"c":"R3","v":1.0,"e":3.55e12,"f":5.01e-14},{"c":"R3","v":1.0,"e":2e13,"f":2.82e-13},{"c":"R3","v":1.0,"e":1e14,"f":1.26e-12},{"c":"R3","v":1.0,"e":2.82e14,"f":2e-12},{"c":"R3","v":1.0,"e":7.94e14,"f":1.41e-12},{"c":"R3","v":1.0,"e":2e15,"f":5.62e-13},{"c":"R3","v":1.0,"e":5.01e15,"f":6.31e-14},{"c":"R3","v":1.0,"e":7.94e15,"f":6.31e-15},
{"c":"R4","v":0.3,"e":3.55e12,"f":3.55e-14},{"c":"R4","v":0.3,"e":2e13,"f":2e-13},{"c":"R4","v":0.3,"e":1e14,"f":8.91e-13},{"c":"R4","v":0.3,"e":2.82e14,"f":1.41e-12},{"c":"R4","v":0.3,"e":7.94e14,"f":1e-12},{"c":"R4","v":0.3,"e":2e15,"f":3.98e-13},{"c":"R4","v":0.3,"e":5.01e15,"f":4.47e-14},{"c":"R4","v":0.3,"e":7.94e15,"f":4.47e-15},
{"c":"R5","v":0.7,"e":3.55e12,"f":2.51e-14},{"c":"R5","v":0.7,"e":2e13,"f":1.41e-13},{"c":"R5","v":0.7,"e":1e14,"f":6.31e-13},{"c":"R5","v":0.7,"e":2.82e14,"f":1e-12},{"c":"R5","v":0.7,"e":7.94e14,"f":7.08e-13},{"c":"R5","v":0.7,"e":2e15,"f":2.82e-13},{"c":"R5","v":0.7,"e":5.01e15,"f":3.16e-14},
{"c":"R6","v":0.2,"e":3.55e12,"f":1.78e-14},{"c":"R6","v":0.2,"e":2e13,"f":1e-13},{"c":"R6","v":0.2,"e":1e14,"f":4.47e-13},{"c":"R6","v":0.2,"e":2.82e14,"f":7.08e-13},{"c":"R6","v":0.2,"e":7.94e14,"f":5.01e-13},{"c":"R6","v":0.2,"e":2e15,"f":2e-13},{"c":"R6","v":0.2,"e":5.01e15,"f":2.24e-14},
{"c":"R7","v":1.3,"e":3.55e12,"f":1.26e-14},{"c":"R7","v":1.3,"e":2e13,"f":7.08e-14},{"c":"R7","v":1.3,"e":1e14,"f":3.16e-13},{"c":"R7","v":1.3,"e":2.82e14,"f":5.01e-13},{"c":"R7","v":1.3,"e":7.94e14,"f":3.55e-13},{"c":"R7","v":1.3,"e":2e15,"f":1.41e-13},{"c":"R7","v":1.3,"e":5.01e15,"f":1.58e-14},
{"c":"R8","v":0.4,"e":3.55e12,"f":8.91e-15},{"c":"R8","v":0.4,"e":2e13,"f":5.01e-14},{"c":"R8","v":0.4,"e":1e14,"f":2.24e-13},{"c":"R8","v":0.4,"e":2.82e14,"f":3.55e-13},{"c":"R8","v":0.4,"e":7.94e14,"f":2.51e-13},{"c":"R8","v":0.4,"e":2e15,"f":1e-13},{"c":"R8","v":0.4,"e":5.01e15,"f":1.12e-14},
{"c":"R9","v":0.15,"e":2e13,"f":3.55e-14},{"c":"R9","v":0.15,"e":1e14,"f":1.58e-13},{"c":"R9","v":0.15,"e":2.82e14,"f":2.51e-13},{"c":"R9","v":0.15,"e":7.94e14,"f":1.78e-13},{"c":"R9","v":0.15,"e":2e15,"f":7.08e-14},{"c":"R9","v":0.15,"e":5.01e15,"f":7.94e-15},
{"c":"R10","v":0.6,"e":2e13,"f":2.24e-14},{"c":"R10","v":0.6,"e":1e14,"f":1e-13},{"c":"R10","v":0.6,"e":2.82e14,"f":1.58e-13},{"c":"R10","v":0.6,"e":7.94e14,"f":1.12e-13},{"c":"R10","v":0.6,"e":2e15,"f":4.47e-14},{"c":"R10","v":0.6,"e":5.01e15,"f":5.01e-15},
{"c":"R11","v":0.25,"e":2e13,"f":1.41e-14},{"c":"R11","v":0.25,"e":1e14,"f":6.31e-14},{"c":"R11","v":0.25,"e":2.82e14,"f":1e-13},{"c":"R11","v":0.25,"e":7.94e14,"f":7.08e-14},{"c":"R11","v":0.25,"e":2e15,"f":2.82e-14},
{"c":"R12","v":0.8,"e":2e13,"f":8.91e-15},{"c":"R12","v":0.8,"e":1e14,"f":3.98e-14},{"c":"R12","v":0.8,"e":2.82e14,"f":6.31e-14},{"c":"R12","v":0.8,"e":7.94e14,"f":4.47e-14},{"c":"R12","v":0.8,"e":2e15,"f":1.78e-14},
{"c":"B2","v":0.02,"e":1.26e12,"f":5.62e-15},{"c":"B2","v":0.02,"e":7.94e12,"f":7.08e-14},{"c":"B2","v":0.02,"e":4.47e13,"f":7.08e-13},{"c":"B2","v":0.02,"e":2.51e14,"f":2.51e-12},{"c":"B2","v":0.02,"e":7.08e14,"f":3.16e-12},{"c":"B2","v":0.02,"e":1.78e15,"f":2.51e-12},{"c":"B2","v":0.02,"e":4.47e15,"f":1e-12},{"c":"B2","v":0.02,"e":1.12e16,"f":1e-13},{"c":"B2","v":0.02,"e":1.58e16,"f":1.58e-14},
{"c":"B3","v":0.003,"e":1.26e12,"f":3.55e-15},{"c":"B3","v":0.003,"e":7.94e12,"f":4.47e-14},{"c":"B3","v":0.003,"e":4.47e13,"f":4.47e-13},{"c":"B3","v":0.003,"e":2.51e14,"f":1.58e-12},{"c":"B3","v":0.003,"e":7.08e14,"f":2e-12},{"c":"B3","v":0.003,"e":1.78e15,"f":1.58e-12},{"c":"B3","v":0.003,"e":4.47e15,"f":6.31e-13},{"c":"B3","v":0.003,"e":1.12e16,"f":6.31e-14},{"c":"B3","v":0.003,"e":1.58e16,"f":1e-14},
{"c":"B4","v":0.006,"e":7.94e12,"f":2.82e-14},{"c":"B4","v":0.006,"e":4.47e13,"f":2.82e-13},{"c":"B4","v":0.006,"e":2.51e14,"f":1e-12},{"c":"B4","v":0.006,"e":7.08e14,"f":1.26e-12},{"c":"B4","v":0.006,"e":1.78e15,"f":1e-12},{"c":"B4","v":0.006,"e":4.47e15,"f":3.98e-13},{"c":"B4","v":0.006,"e":1.12e16,"f":3.98e-14},{"c":"B4","v":0.006,"e":1.58e16,"f":6.31e-15},
{"c":"B5","v":0.0015,"e":7.94e12,"f":2e-14},{"c":"B5","v":0.0015,"e":4.47e13,"f":2e-13},{"c":"B5","v":0.0015,"e":2.51e14,"f":7.08e-13},{"c":"B5","v":0.0015,"e":7.08e14,"f":8.91e-13},{"c":"B5","v":0.0015,"e":1.78e15,"f":7.08e-13},{"c":"B5","v":0.0015,"e":4.47e15,"f":2.82e-13},{"c":"B5","v":0.0015,"e":1.12e16,"f":2.82e-14},
{"c":"B6","v":0.004,"e":7.94e12,"f":1.41e-14},{"c":"B6","v":0.004,"e":4.47e13,"f":1.41e-13},{"c":"B6","v":0.004,"e":2.51e14,"f":5.01e-13},{"c":"B6","v":0.004,"e":7.08e14,"f":6.31e-13},{"c":"B6","v":0.004,"e":1.78e15,"f":5.01e-13},{"c":"B6","v":0.004,"e":4.47e15,"f":2e-13},{"c":"B6","v":0.004,"e":1.12e16,"f":2e-14},
{"c":"B7","v":0.008,"e":7.94e12,"f":8.91e-15},{"c":"B7","v":0.008,"e":4.47e13,"f":8.91e-14},{"c":"B7","v":0.008,"e":2.51e14,"f":3.16e-13},{"c":"B7","v":0.008,"e":7.08e14,"f":3.98e-13},{"c":"B7","v":0.008,"e":1.78e15,"f":3.16e-13},{"c":"B7","v":0.008,"e":4.47e15,"f":1.26e-13},{"c":"B7","v":0.008,"e":1.12e16,"f":1.26e-14},
{"c":"B8","v":0.002,"e":7.94e12,"f":6.31e-15},{"c":"B8","v":0.002,"e":4.47e13,"f":6.31e-14},{"c":"B8","v":0.002,"e":2.51e14,"f":2.24e-13},{"c":"B8","v":0.002,"e":7.08e14,"f":2.82e-13},{"c":"B8","v":0.002,"e":1.78e15,"f":2.24e-13},{"c":"B8","v":0.002,"e":4.47e15,"f":8.91e-14},{"c":"B8","v":0.002,"e":1.12e16,"f":8.91e-15},
{"c":"B9","v":0.005,"e":7.94e12,"f":3.98e-15},{"c":"B9","v":0.005,"e":4.47e13,"f":3.98e-14},{"c":"B9","v":0.005,"e":2.51e14,"f":1.41e-13},{"c":"B9","v":0.005,"e":7.08e14,"f":1.78e-13},{"c":"B9","v":0.005,"e":1.78e15,"f":1.41e-13},{"c":"B9","v":0.005,"e":4.47e15,"f":5.62e-14},{"c":"B9","v":0.005,"e":1.12e16,"f":5.62e-15},
{"c":"B10","v":0.01,"e":4.47e13,"f":2.51e-14},{"c":"B10","v":0.01,"e":2.51e14,"f":8.91e-14},{"c":"B10","v":0.01,"e":7.08e14,"f":1.12e-13},{"c":"B10","v":0.01,"e":1.78e15,"f":8.91e-14},{"c":"B10","v":0.01,"e":4.47e15,"f":3.55e-14}]
},
"concat":[
{"width":351,"height":305,"layer":[
{"data":{"name":"p1c"},"mark":{"type":"line","strokeWidth":1.4,"interpolate":"monotone","clip":true},
"encoding":{"x":{"field":"e","type":"quantitative","scale":{"type":"log","domain":[1e9,3.2e17],"nice":false},"axis":{"title":"E [eV]","titleFontSize":17,"titlePadding":6,"tickCount":60,"labelAngle":-45,"labelAlign":"center","labelBaseline":"middle","labelPadding":12,"labelExpr":"abs(log(datum.value)/LN10-round(log(datum.value)/LN10))<0.001 ? ['10⁹','10¹⁰','10¹¹','10¹²','10¹³','10¹⁴','10¹⁵','10¹⁶','10¹⁷'][round(log(datum.value)/LN10)-9] : ''","tickSize":{"condition":{"test":"abs(log(datum.value)/LN10-round(log(datum.value)/LN10))<0.001","value":4},"value":2}}},
"y":{"field":"f","type":"quantitative","scale":{"type":"log","domain":[1e-17,1.47e-7],"nice":false},"axis":{"title":"Eᵥ Φᵥ₊ᵥ̄ [ergs cm⁻² s⁻¹ sr⁻¹]","titleFontSize":17.5,"titleFontStyle":"italic","titlePadding":9,"tickCount":10,"labelAngle":-45,"labelAlign":"right","labelBaseline":"middle","labelPadding":5,"labelExpr":"['','10⁻¹⁶','','10⁻¹⁴','','10⁻¹²','','10⁻¹⁰','','10⁻⁸',''][round(log(datum.value)/LN10)+17]","tickSize":{"condition":{"test":"round(log(datum.value)/LN10)%2==0","value":4},"value":2}}},
"detail":{"field":"c"},
"stroke":{"field":"v","type":"quantitative","scale":{"type":"log","domain":[0.0135,0.02526,0.04726,0.08845,0.1655,0.3097,0.5797,1.0846,2.03],"range":["#3b4cc0","#6282ea","#8db0fe","#b8d0f9","#dddcdc","#f5c4ad","#f49a7b","#de604d","#b40426"],"interpolate":"rgb"},"legend":null}}},
{"data":{"name":"p1s"},"mark":{"type":"line","interpolate":"monotone","clip":true},
"encoding":{"x":{"field":"e","type":"quantitative"},"y":{"field":"f","type":"quantitative"},
"color":{"field":"s","type":"nominal","scale":{"domain":["NGC 1068","Sum of catalog","Mock + BAT","BAT","Abbasi et al. (2024)"],"range":["#000000","#000000","#bf00bf","#000000","#ff0000"]}},
"strokeDash":{"field":"s","type":"nominal","scale":{"domain":["NGC 1068","Sum of catalog","Mock + BAT","BAT","Abbasi et al. (2024)"],"range":[[1,0],[10,4.3],[2.7,4.5],[17,4.3,2.7,4.3],[1.2,2]]}},
"strokeWidth":{"field":"s","type":"nominal","scale":{"type":"ordinal","domain":["NGC 1068","Sum of catalog","Mock + BAT","BAT","Abbasi et al. (2024)"],"range":[2.7,2.7,2.7,2.7,1.2]}}}},
{"data":{"name":"abb"},"mark":{"type":"rule","color":"#ff0000","strokeWidth":1.3,"clip":true},"encoding":{"x":{"field":"e","type":"quantitative"},"y":{"field":"f","type":"quantitative"},"y2":{"field":"f2"}}},
{"data":{"name":"abb"},"mark":{"type":"point","shape":"triangle-down","filled":true,"color":"#ff0000","size":22,"opacity":1,"clip":true},"encoding":{"x":{"field":"e","type":"quantitative"},"y":{"field":"f2","type":"quantitative"}}},
{"data":{"name":"pts"},"mark":{"type":"rule","color":"#000000","strokeWidth":1.3,"clip":true},"encoding":{"x":{"field":"el","type":"quantitative"},"x2":{"field":"eh"},"y":{"field":"f","type":"quantitative"}}},
{"data":{"name":"pts"},"mark":{"type":"rule","color":"#000000","strokeWidth":1.3,"clip":true},"encoding":{"x":{"field":"e","type":"quantitative"},"y":{"field":"fl","type":"quantitative"},"y2":{"field":"fh"}}},
{"data":{"name":"pts"},"mark":{"type":"point","filled":true,"color":"#000000","size":24,"opacity":1,"clip":true},"encoding":{"x":{"field":"e","type":"quantitative"},"y":{"field":"f","type":"quantitative"}}},
{"data":{"values":[{"hx":2.06e3,"hy":6.8e-5,"t":"Diffuse neutrino flux from AGN coronae"}]},"mark":{"type":"text","align":"left","baseline":"top","font":"Liberation Serif","fontStyle":"italic","fontSize":12.5,"color":"#000000","clip":false},"encoding":{"x":{"field":"hx","type":"quantitative"},"y":{"field":"hy","type":"quantitative"},"text":{"field":"t"}}},
{"data":{"values":[{"hx":1.2e24,"hy":6.8e-5,"t":"D. Karavola"}]},"mark":{"type":"text","align":"right","baseline":"top","font":"Liberation Serif","fontSize":13.5,"color":"#000000","clip":false},"encoding":{"x":{"field":"hx","type":"quantitative"},"y":{"field":"hy","type":"quantitative"},"text":{"field":"t"}}},
{"data":{"values":[{"hx":2.06e3,"hx2":1.2e24,"hy":1.14e-5}]},"mark":{"type":"rule","color":"#000000","strokeWidth":1,"clip":false},"encoding":{"x":{"field":"hx","type":"quantitative"},"x2":{"field":"hx2"},"y":{"field":"hy","type":"quantitative"}}}
]},
{"width":15,"height":305,"view":{"stroke":null},"data":{"values":[{"lo":0.0135,"hi":2.03}]},
"mark":{"type":"rect","color":{"gradient":"linear","x1":0,"y1":1,"x2":0,"y2":0,"stops":[{"offset":0,"color":"#3b4cc0"},{"offset":0.125,"color":"#6282ea"},{"offset":0.25,"color":"#8db0fe"},{"offset":0.375,"color":"#b8d0f9"},{"offset":0.5,"color":"#dddcdc"},{"offset":0.625,"color":"#f5c4ad"},{"offset":0.75,"color":"#f49a7b"},{"offset":0.875,"color":"#de604d"},{"offset":1,"color":"#b40426"}]}},
"encoding":{"y":{"field":"lo","type":"quantitative","scale":{"type":"log","domain":[0.0135,2.03],"nice":false},"axis":{"orient":"right","title":"λX, Edd","titleFontSize":15,"titlePadding":1,"tickCount":20,"labelFontSize":18,"labelPadding":3,"labelExpr":"abs(log(datum.value)/LN10-round(log(datum.value)/LN10))<0.001 ? ['10⁻³','10⁻²','10⁻¹','10⁰'][round(log(datum.value)/LN10)+3] : ''","tickSize":{"condition":{"test":"abs(log(datum.value)/LN10-round(log(datum.value)/LN10))<0.001","value":4},"value":2}}},"y2":{"field":"hi"}}},
{"width":351,"height":305,"layer":[
{"data":{"name":"p2c"},"mark":{"type":"line","strokeWidth":1.4,"interpolate":"monotone","clip":true},
"encoding":{"x":{"field":"e","type":"quantitative","scale":{"type":"log","domain":[1e9,3.2e17],"nice":false},"axis":{"title":"E [eV]","titleFontSize":17,"titlePadding":6,"tickCount":60,"labelAngle":-45,"labelAlign":"center","labelBaseline":"middle","labelPadding":12,"labelExpr":"abs(log(datum.value)/LN10-round(log(datum.value)/LN10))<0.001 ? ['10⁹','10¹⁰','10¹¹','10¹²','10¹³','10¹⁴','10¹⁵','10¹⁶','10¹⁷'][round(log(datum.value)/LN10)-9] : ''","tickSize":{"condition":{"test":"abs(log(datum.value)/LN10-round(log(datum.value)/LN10))<0.001","value":4},"value":2}}},
"y":{"field":"f","type":"quantitative","scale":{"type":"log","domain":[1.16e-14,1.79e-7],"nice":false},"axis":{"title":"Eᵥ Φᵥ₊ᵥ̄ [ergs cm⁻² s⁻¹ sr⁻¹]","titleFontSize":17.5,"titleFontStyle":"italic","titlePadding":9,"tickCount":60,"labelAngle":-45,"labelAlign":"right","labelBaseline":"middle","labelPadding":5,"labelExpr":"abs(log(datum.value)/LN10-round(log(datum.value)/LN10))<0.001 ? ['10⁻¹³','10⁻¹²','10⁻¹¹','10⁻¹⁰','10⁻⁹','10⁻⁸','10⁻⁷'][round(log(datum.value)/LN10)+13] : ''","tickSize":{"condition":{"test":"abs(log(datum.value)/LN10-round(log(datum.value)/LN10))<0.001","value":4},"value":2}}},
"detail":{"field":"c"},
"stroke":{"field":"v","type":"quantitative","scale":{"type":"log","domain":[0.004246,0.008872,0.01854,0.03873,0.08091,0.1687,0.3524,0.7362,1.538],"range":["#3b4cc0","#6282ea","#8db0fe","#b8d0f9","#dddcdc","#f5c4ad","#f49a7b","#de604d","#b40426"],"interpolate":"rgb"},"legend":null}}},
{"data":{"name":"p2s"},"mark":{"type":"line","interpolate":"monotone","clip":true},
"encoding":{"x":{"field":"e","type":"quantitative"},"y":{"field":"f","type":"quantitative"},
"color":{"field":"s","type":"nominal","scale":{"domain":["NGC 1068","Sum of catalog","Mock + BAT","BAT","Abbasi et al. (2024)"],"range":["#000000","#000000","#bf00bf","#000000","#ff0000"]}},
"strokeDash":{"field":"s","type":"nominal","scale":{"domain":["NGC 1068","Sum of catalog","Mock + BAT","BAT","Abbasi et al. (2024)"],"range":[[1,0],[10,4.3],[2.7,4.5],[17,4.3,2.7,4.3],[1.2,2]]}},
"strokeWidth":{"field":"s","type":"nominal","scale":{"type":"ordinal","domain":["NGC 1068","Sum of catalog","Mock + BAT","BAT","Abbasi et al. (2024)"],"range":[2.7,2.7,2.7,2.7,1.2]}}}},
{"data":{"name":"abb"},"mark":{"type":"rule","color":"#ff0000","strokeWidth":1.3,"clip":true},"encoding":{"x":{"field":"e","type":"quantitative"},"y":{"field":"f","type":"quantitative"},"y2":{"field":"f2"}}},
{"data":{"name":"abb"},"mark":{"type":"point","shape":"triangle-down","filled":true,"color":"#ff0000","size":22,"opacity":1,"clip":true},"encoding":{"x":{"field":"e","type":"quantitative"},"y":{"field":"f2","type":"quantitative"}}},
{"data":{"name":"pts"},"mark":{"type":"rule","color":"#000000","strokeWidth":1.3,"clip":true},"encoding":{"x":{"field":"el","type":"quantitative"},"x2":{"field":"eh"},"y":{"field":"f","type":"quantitative"}}},
{"data":{"name":"pts"},"mark":{"type":"rule","color":"#000000","strokeWidth":1.3,"clip":true},"encoding":{"x":{"field":"e","type":"quantitative"},"y":{"field":"fl","type":"quantitative"},"y2":{"field":"fh"}}},
{"data":{"name":"pts"},"mark":{"type":"point","filled":true,"color":"#000000","size":24,"opacity":1,"clip":true},"encoding":{"x":{"field":"e","type":"quantitative"},"y":{"field":"f","type":"quantitative"}}}
]},
{"width":15,"height":305,"view":{"stroke":null},"data":{"values":[{"lo":0.004246,"hi":1.538}]},
"mark":{"type":"rect","color":{"gradient":"linear","x1":0,"y1":1,"x2":0,"y2":0,"stops":[{"offset":0,"color":"#3b4cc0"},{"offset":0.125,"color":"#6282ea"},{"offset":0.25,"color":"#8db0fe"},{"offset":0.375,"color":"#b8d0f9"},{"offset":0.5,"color":"#dddcdc"},{"offset":0.625,"color":"#f5c4ad"},{"offset":0.75,"color":"#f49a7b"},{"offset":0.875,"color":"#de604d"},{"offset":1,"color":"#b40426"}]}},
"encoding":{"y":{"field":"lo","type":"quantitative","scale":{"type":"log","domain":[0.004246,1.538],"nice":false},"axis":{"orient":"right","title":"λX, Edd","titleFontSize":15,"titlePadding":1,"tickCount":20,"labelFontSize":18,"labelPadding":3,"labelExpr":"abs(log(datum.value)/LN10-round(log(datum.value)/LN10))<0.001 ? ['10⁻³','10⁻²','10⁻¹','10⁰'][round(log(datum.value)/LN10)+3] : ''","tickSize":{"condition":{"test":"abs(log(datum.value)/LN10-round(log(datum.value)/LN10))<0.001","value":4},"value":2}}},"y2":{"field":"hi"}}},
{"width":351,"height":305,"layer":[
{"data":{"name":"p3c"},"mark":{"type":"line","strokeWidth":1.4,"interpolate":"monotone","clip":true},
"encoding":{"x":{"field":"e","type":"quantitative","scale":{"type":"log","domain":[1e9,3.2e17],"nice":false},"axis":{"title":"E [eV]","titleFontSize":17,"titlePadding":6,"tickCount":60,"labelAngle":-45,"labelAlign":"center","labelBaseline":"middle","labelPadding":12,"labelExpr":"abs(log(datum.value)/LN10-round(log(datum.value)/LN10))<0.001 ? ['10⁹','10¹⁰','10¹¹','10¹²','10¹³','10¹⁴','10¹⁵','10¹⁶','10¹⁷'][round(log(datum.value)/LN10)-9] : ''","tickSize":{"condition":{"test":"abs(log(datum.value)/LN10-round(log(datum.value)/LN10))<0.001","value":4},"value":2}}},
"y":{"field":"f","type":"quantitative","scale":{"type":"log","domain":[3.69e-14,5.93e-7],"nice":false},"axis":{"title":"Eᵥ Φᵥ₊ᵥ̄ [ergs cm⁻² s⁻¹ sr⁻¹]","titleFontSize":17.5,"titleFontStyle":"italic","titlePadding":9,"tickCount":60,"labelAngle":-45,"labelAlign":"right","labelBaseline":"middle","labelPadding":5,"labelExpr":"abs(log(datum.value)/LN10-round(log(datum.value)/LN10))<0.001 ? ['10⁻¹³','10⁻¹²','10⁻¹¹','10⁻¹⁰','10⁻⁹','10⁻⁸','10⁻⁷'][round(log(datum.value)/LN10)+13] : ''","tickSize":{"condition":{"test":"abs(log(datum.value)/LN10-round(log(datum.value)/LN10))<0.001","value":4},"value":2}}},
"detail":{"field":"c"},
"stroke":{"field":"v","type":"quantitative","scale":{"type":"log","domain":[0.000422,0.001193,0.003373,0.009538,0.02698,0.07627,0.2158,0.6103,1.726],"range":["#3b4cc0","#6282ea","#8db0fe","#b8d0f9","#dddcdc","#f5c4ad","#f49a7b","#de604d","#b40426"],"interpolate":"rgb"},"legend":null}}},
{"data":{"name":"p3s"},"mark":{"type":"line","interpolate":"monotone","clip":true},
"encoding":{"x":{"field":"e","type":"quantitative"},"y":{"field":"f","type":"quantitative"},
"color":{"field":"s","type":"nominal","scale":{"domain":["NGC 1068","Sum of catalog","Mock + BAT","BAT","Abbasi et al. (2024)"],"range":["#000000","#000000","#bf00bf","#000000","#ff0000"]}},
"strokeDash":{"field":"s","type":"nominal","scale":{"domain":["NGC 1068","Sum of catalog","Mock + BAT","BAT","Abbasi et al. (2024)"],"range":[[1,0],[10,4.3],[2.7,4.5],[17,4.3,2.7,4.3],[1.2,2]]}},
"strokeWidth":{"field":"s","type":"nominal","scale":{"type":"ordinal","domain":["NGC 1068","Sum of catalog","Mock + BAT","BAT","Abbasi et al. (2024)"],"range":[2.7,2.7,2.7,2.7,1.2]}}}},
{"data":{"name":"abb"},"mark":{"type":"rule","color":"#ff0000","strokeWidth":1.3,"clip":true},"encoding":{"x":{"field":"e","type":"quantitative"},"y":{"field":"f","type":"quantitative"},"y2":{"field":"f2"}}},
{"data":{"name":"abb"},"mark":{"type":"point","shape":"triangle-down","filled":true,"color":"#ff0000","size":22,"opacity":1,"clip":true},"encoding":{"x":{"field":"e","type":"quantitative"},"y":{"field":"f2","type":"quantitative"}}},
{"data":{"name":"pts"},"mark":{"type":"rule","color":"#000000","strokeWidth":1.3,"clip":true},"encoding":{"x":{"field":"el","type":"quantitative"},"x2":{"field":"eh"},"y":{"field":"f","type":"quantitative"}}},
{"data":{"name":"pts"},"mark":{"type":"rule","color":"#000000","strokeWidth":1.3,"clip":true},"encoding":{"x":{"field":"e","type":"quantitative"},"y":{"field":"fl","type":"quantitative"},"y2":{"field":"fh"}}},
{"data":{"name":"pts"},"mark":{"type":"point","filled":true,"color":"#000000","size":24,"opacity":1,"clip":true},"encoding":{"x":{"field":"e","type":"quantitative"},"y":{"field":"f","type":"quantitative"}}}
]},
{"width":15,"height":305,"view":{"stroke":null},"data":{"values":[{"lo":0.000422,"hi":1.726}]},
"mark":{"type":"rect","color":{"gradient":"linear","x1":0,"y1":1,"x2":0,"y2":0,"stops":[{"offset":0,"color":"#3b4cc0"},{"offset":0.125,"color":"#6282ea"},{"offset":0.25,"color":"#8db0fe"},{"offset":0.375,"color":"#b8d0f9"},{"offset":0.5,"color":"#dddcdc"},{"offset":0.625,"color":"#f5c4ad"},{"offset":0.75,"color":"#f49a7b"},{"offset":0.875,"color":"#de604d"},{"offset":1,"color":"#b40426"}]}},
"encoding":{"y":{"field":"lo","type":"quantitative","scale":{"type":"log","domain":[0.000422,1.726],"nice":false},"axis":{"orient":"right","title":"λX, Edd","titleFontSize":15,"titlePadding":1,"tickCount":20,"labelFontSize":18,"labelPadding":3,"labelExpr":"abs(log(datum.value)/LN10-round(log(datum.value)/LN10))<0.001 ? ['10⁻³','10⁻²','10⁻¹','10⁰'][round(log(datum.value)/LN10)+3] : ''","tickSize":{"condition":{"test":"abs(log(datum.value)/LN10-round(log(datum.value)/LN10))<0.001","value":4},"value":2}}},"y2":{"field":"hi"}}}
]
}
